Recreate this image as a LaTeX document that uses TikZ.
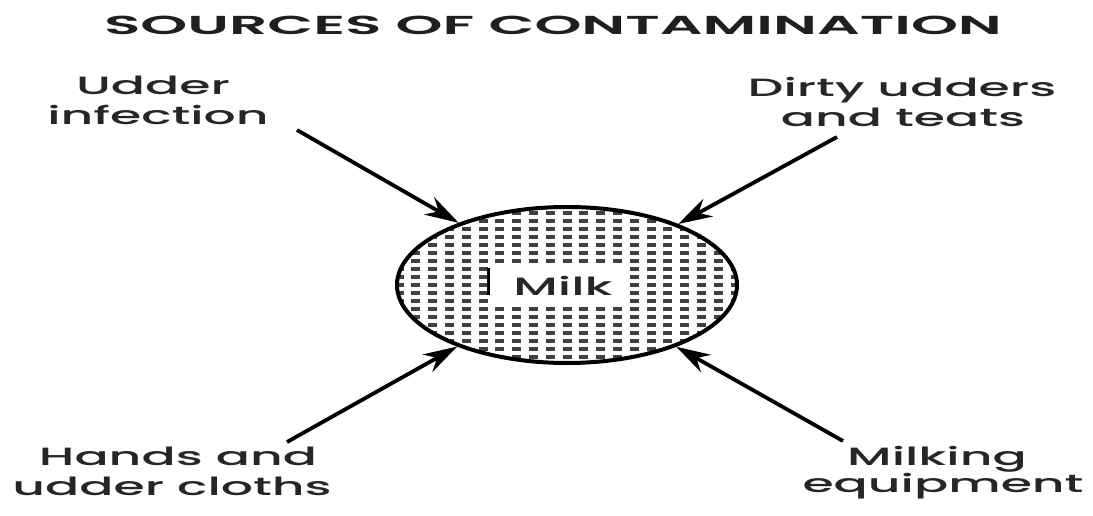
\documentclass[tikz,border=0pt]{standalone}
\usepackage{fontspec}
\setmainfont{Poppins}
\newfontfamily\lblfont[FakeStretch=2.02]{Poppins Medium}
\newfontfamily\ttlfont[FakeStretch=2.3]{Poppins SemiBold}
\usetikzlibrary{shapes.geometric,arrows.meta}
\definecolor{dotc}{HTML}{404040}
\tikzset{
  lbl/.style={anchor=base, inner sep=0pt, font=\lblfont\fontsize{25}{30}\selectfont, text=black!85},
  ttl/.style={anchor=base, inner sep=0pt, font=\ttlfont\fontsize{26}{30}\selectfont, text=black!88},
  src/.style={line width=3.8pt, -{Stealth[length=34pt,width=20pt,inset=11pt]}},
}
\begin{document}
\begin{tikzpicture}[x=1pt,y=-1pt]
\useasboundingbox (0,0) rectangle (1093,516);
\node[ttl] (title) at (553,35) {SOURCES OF CONTAMINATION};
% ellipse
\node[ellipse, minimum width=340pt, minimum height=156pt, inner sep=0pt,
  path picture={
    \foreach \i in {-11,...,11}
      \foreach \j in {-11,...,11}
        \fill[dotc] ([xshift=\i*16.8pt-4.5pt, yshift=\j*8pt-1.75pt]path picture bounding box.center) rectangle ++(9pt,3.5pt);
  }] (blob) at (567,285) {};
\node[fill=white, minimum width=137pt, minimum height=36pt, inner sep=0pt] (milkbox) at (558,285) {};
\node[lbl, anchor=center] (milk) at (563,286) {Milk};
\draw[line width=3pt] (488,268) coordinate (bart) -- (488,295) coordinate (barb);
\node[ellipse, draw, line width=4pt, minimum width=340pt, minimum height=156pt, inner sep=0pt] (ring) at (567,285) {};
% labels
\node[lbl] (ui1) at (153,95) {Udder};
\node[lbl] (ui2) at (158,125) {infection};
\node[lbl] (du1) at (902,97) {Dirty udders};
\node[lbl] (du2) at (903,127) {and teats};
\node[lbl] (hu1) at (178,465) {Hands and};
\node[lbl] (hu2) at (172,495) {udder cloths};
\node[lbl] (me1) at (937,465) {Milking};
\node[lbl] (me2) at (943,492) {equipment};
% arrows
\coordinate (t1) at (297,130);
\coordinate (t2) at (837,137);
\coordinate (t3) at (287,442);
\coordinate (t4) at (843,441);
\draw[src] (t1) -- (ring);
\draw[src] (t2) -- (ring);
\draw[src] (t3) -- (ring);
\draw[src] (t4) -- (ring);
\end{tikzpicture}
\end{document}
